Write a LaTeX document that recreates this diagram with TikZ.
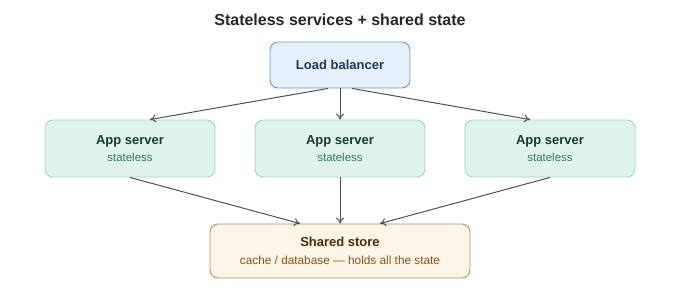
\documentclass[tikz,border=0pt]{standalone}
\usepackage{fontspec}
\setmainfont{Liberation Sans}
\usetikzlibrary{arrows.meta}
\definecolor{lbfill}{HTML}{E6F0FA}
\definecolor{lbline}{HTML}{6A9BD0}
\definecolor{lbtext}{HTML}{1C3A5E}
\definecolor{appfill}{HTML}{E1F4EB}
\definecolor{appline}{HTML}{9ED9BF}
\definecolor{apptext}{HTML}{143D2C}
\definecolor{appsub}{HTML}{2F7D5B}
\definecolor{stfill}{HTML}{FDF5E7}
\definecolor{stline}{HTML}{B8905F}
\definecolor{sttext}{HTML}{4A2C0C}
\definecolor{stsub}{HTML}{8A5519}
\definecolor{arrowgray}{HTML}{505050}
\tikzset{
  box/.style={draw, rounded corners=8pt, line width=0.9pt, align=center},
  lbbox/.style={box, fill=lbfill, draw=lbline, minimum width=140pt, minimum height=46pt},
  appbox/.style={box, fill=appfill, draw=appline, minimum width=170pt, minimum height=57pt},
  storebox/.style={box, fill=stfill, draw=stline, minimum width=260pt, minimum height=54pt},
  link/.style={-{To[length=6pt,width=8pt]}, draw=arrowgray, line width=1pt}
}
\begin{document}
\begin{tikzpicture}[x=1pt,y=-1pt]
  \useasboundingbox (0,0) rectangle (680,300);
  % title
  \node[font=\fontsize{16}{18}\selectfont\bfseries, text=black!85] (title) at (340,20) {Stateless services + shared state};
  % load balancer
  \node[lbbox, font=\fontsize{13}{15}\selectfont\bfseries, text=lbtext] (lb) at (340,65) {Load balancer};
  % app servers
  \foreach \i/\x in {1/130, 2/340, 3/550}
    \node[appbox] (app\i) at (\x,148.5) {{\fontsize{13}{15}\selectfont\bfseries\color{apptext}App server}\\[5.5pt]
      {\fontsize{11.5}{13}\selectfont\color{appsub}stateless}};
  % shared store
  \node[storebox] (store) at (340,251) {{\fontsize{13}{15}\selectfont\bfseries\color{sttext}Shared store}\\[6.5pt]
    {\fontsize{11.8}{13}\selectfont\color{stsub}cache / database --- holds all the state}};
  % arrows
  \draw[link] ([xshift=-12pt]lb.south) -- ([xshift=20pt]app1.north);
  \draw[link] (lb.south) -- (app2.north);
  \draw[link] ([xshift=12pt]lb.south) -- ([xshift=-20pt]app3.north);
  \draw[link] (app1.south) -- ([xshift=-40pt]store.north);
  \draw[link] (app2.south) -- (store.north);
  \draw[link] (app3.south) -- ([xshift=40pt]store.north);
\end{tikzpicture}
\end{document}
